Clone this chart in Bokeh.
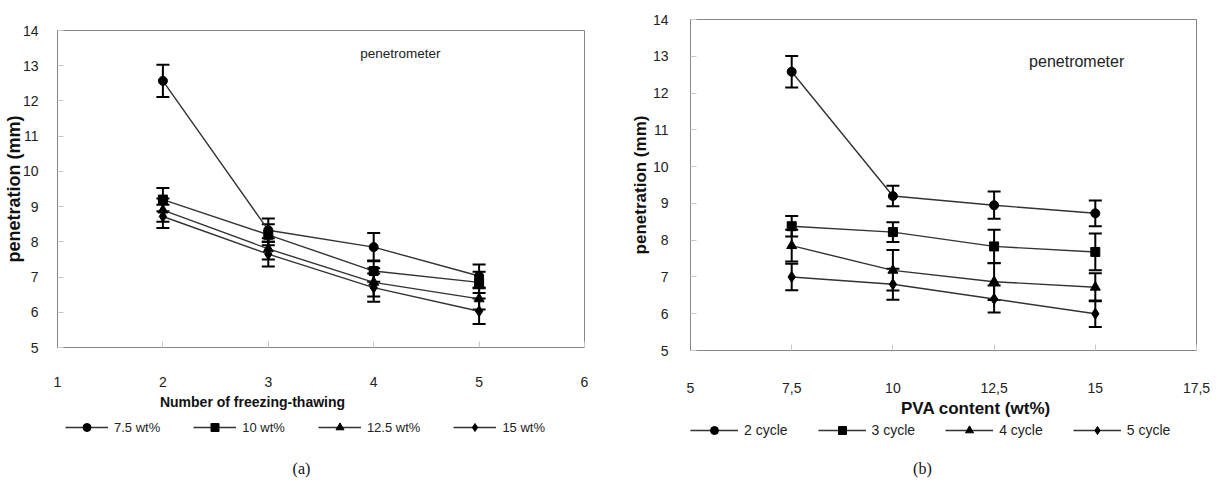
from bokeh.plotting import figure
from bokeh.models import (Range1d, Whisker, ColumnDataSource, Legend, LegendItem,
                          Label, FixedTicker, TeeHead)
from bokeh.layouts import row, column
from bokeh.embed import file_html
from bokeh.resources import INLINE

# ---------------- data: chart (a) ----------------
cycles = [2, 3, 4, 5]
wt_labels = ["7.5 wt%", "10 wt%", "12.5 wt%", "15 wt%"]
pen_7_5 = [12.57, 8.33, 7.85, 7.03]
pen_10 = [9.20, 8.20, 7.17, 6.85]
pen_12_5 = [8.90, 7.80, 6.85, 6.38]
pen_15 = [8.72, 7.65, 6.70, 6.03]
err_7_5 = [0.46, 0.33, 0.40, 0.33]
err_10 = [0.33, 0.30, 0.30, 0.30]
err_12_5 = [0.33, 0.30, 0.40, 0.30]
err_15 = [0.33, 0.35, 0.40, 0.36]
x_ticks_a = [1, 2, 3, 4, 5, 6]

# ---------------- data: chart (b) ----------------
pva = [7.5, 10, 12.5, 15]
cycle_labels = ["2 cycle", "3 cycle", "4 cycle", "5 cycle"]
pen_c2 = [12.58, 9.20, 8.95, 8.73]
pen_c3 = [8.38, 8.22, 7.83, 7.68]
pen_c4 = [7.85, 7.18, 6.87, 6.72]
pen_c5 = [7.00, 6.80, 6.40, 6.00]
err_c2 = [0.43, 0.28, 0.37, 0.35]
err_c3 = [0.28, 0.27, 0.45, 0.50]
err_c4 = [0.43, 0.55, 0.50, 0.38]
err_c5 = [0.36, 0.42, 0.37, 0.36]
x_ticks_b = [5, 7.5, 10, 12.5, 15, 17.5]
x_tick_labels_b = ["5", "7,5", "10", "12,5", "15", "17,5"]
y_ticks = [5, 6, 7, 8, 9, 10, 11, 12, 13, 14]

markers = ["circle", "square", "triangle", "diamond"]
marker_sizes = [9, 9, 10, 11]

SANS = "Liberation Sans"
SERIF = "Liberation Serif"
GRAY = "#868686"
LINE_C = "#333333"


def make_fig(width, height, xr, yr, mb_left, mb_right, mb_top, mb_bottom):
    p = figure(width=width, height=height, x_range=Range1d(*xr), y_range=Range1d(*yr),
               output_backend="svg", toolbar_location=None,
               min_border_left=mb_left, min_border_right=mb_right,
               min_border_top=mb_top, min_border_bottom=mb_bottom)
    p.grid.visible = False
    p.outline_line_color = GRAY
    p.outline_line_width = 1
    p.background_fill_color = "white"
    p.border_fill_color = "white"
    for ax in (p.xaxis[0], p.yaxis[0]):
        ax.axis_line_color = GRAY
        ax.major_tick_line_color = "#c8c8c8"
        ax.minor_tick_line_color = None
        ax.major_tick_out = 0
        ax.major_tick_in = 6
        ax.major_label_text_font = SANS
        ax.major_label_text_font_size = "14px"
        ax.major_label_text_color = "#222222"
    p.yaxis.ticker = FixedTicker(ticks=y_ticks)
    p.yaxis.axis_label = "penetration (mm)"
    p.yaxis.axis_label_text_font = SANS
    p.yaxis.axis_label_text_font_style = "bold"
    p.yaxis.axis_label_text_color = "#111111"
    return p


def make_strip(width, height, xr, mb_left, mb_right):
    # strip under a chart: axis title, legend and panel letter
    s = figure(width=width, height=height, x_range=Range1d(*xr), y_range=Range1d(0, height),
               output_backend="svg", toolbar_location=None,
               x_axis_location=None, y_axis_location=None,
               min_border_left=mb_left, min_border_right=mb_right,
               min_border_top=0, min_border_bottom=0)
    s.grid.visible = False
    s.outline_line_color = None
    s.background_fill_color = "white"
    s.border_fill_color = "white"
    return s


def make_sources(xs, ys, errs):
    return [ColumnDataSource(dict(x=xs, y=yv,
                                  upper=[a + b for a, b in zip(yv, ev)],
                                  lower=[a - b for a, b in zip(yv, ev)]))
            for yv, ev in zip(ys, errs)]


def add_series(p, sources):
    for k, src in enumerate(sources):
        p.line("x", "y", source=src, line_color=LINE_C, line_width=1.4)
        w = Whisker(source=src, base="x", upper="upper", lower="lower",
                    line_color="black", line_width=2,
                    upper_head=TeeHead(size=13, line_color="black", line_width=2),
                    lower_head=TeeHead(size=13, line_color="black", line_width=2))
        p.add_layout(w)
        p.scatter("x", "y", source=src, marker=markers[k], size=marker_sizes[k],
                  fill_color="black", line_color="black")


def legend_items(s, sources, labels):
    # hidden copies of the series, only used to draw the legend keys
    items = []
    for k, (src, lab) in enumerate(zip(sources, labels)):
        ln = s.line("x", "y", source=src, line_color=LINE_C, line_width=1.4, visible=False)
        sc = s.scatter("x", "y", source=src, marker=markers[k], size=marker_sizes[k],
                       fill_color="black", line_color="black", visible=False)
        items.append(LegendItem(label=lab, renderers=[ln, sc]))
    return items


# ---------------- chart (a) ----------------
A_W, A_H1 = 610, 392
A_L, A_R = 57, 26
src_a = make_sources(cycles, [pen_7_5, pen_10, pen_12_5, pen_15],
                     [err_7_5, err_10, err_12_5, err_15])
pa = make_fig(A_W, A_H1, (1, 6), (5, 14), A_L, A_R, 30, 45)
pa.xaxis.ticker = FixedTicker(ticks=x_ticks_a)
pa.xaxis.major_label_standoff = 29
pa.yaxis.major_label_standoff = 19
pa.yaxis.axis_label_standoff = -4
pa.yaxis.axis_label_text_font_size = "18px"
add_series(pa, src_a)
pa.add_layout(Label(x=4.254, y=13.35, text="penetrometer", text_align="center",
                    text_baseline="middle", text_font=SANS, text_font_size="13.5px",
                    text_color="#222222"))

sa = make_strip(A_W, 482 - A_H1, (1, 6), A_L, A_R)
sa.add_layout(Label(x=2.85, y=81, text="Number of freezing-thawing", text_align="center",
                    text_baseline="middle", text_font=SANS, text_font_style="bold",
                    text_font_size="14px", text_color="#111111"))
leg_a = Legend(items=legend_items(sa, src_a, wt_labels), orientation="horizontal",
               location=(8, 45), glyph_width=43, glyph_height=20, label_height=20,
               label_standoff=6, spacing=33, padding=0, margin=0, border_line_alpha=0,
               background_fill_alpha=0, inactive_fill_alpha=0, label_text_font=SANS,
               label_text_font_size="13px", label_text_color="#222222")
sa.add_layout(leg_a, "center")
sa.add_layout(Label(x=3.315, y=14, text="(a)", text_align="center", text_baseline="middle",
                    text_font=SERIF, text_font_size="16px", text_color="#111111"))

# ---------------- chart (b) ----------------
B_W, B_H1 = 611, 398
B_L, B_R = 80, 25
src_b = make_sources(pva, [pen_c2, pen_c3, pen_c4, pen_c5],
                     [err_c2, err_c3, err_c4, err_c5])
pb = make_fig(B_W, B_H1, (5, 17.5), (5, 14), B_L, B_R, 19, 48)
pb.xaxis.ticker = FixedTicker(ticks=x_ticks_b)
pb.xaxis.major_label_overrides = {(int(t) if t == int(t) else t): s
                                  for t, s in zip(x_ticks_b, x_tick_labels_b)}
pb.xaxis.major_label_standoff = 32
pb.yaxis.major_label_standoff = 22
pb.yaxis.axis_label_standoff = 0
pb.yaxis.axis_label_text_font_size = "17px"
add_series(pb, src_b)
pb.add_layout(Label(x=14.54, y=12.87, text="penetrometer", text_align="center",
                    text_baseline="middle", text_font=SANS, text_font_size="16px",
                    text_color="#222222"))

sb = make_strip(B_W, 482 - B_H1, (5, 17.5), B_L, B_R)
sb.add_layout(Label(x=12.05, y=74, text="PVA content (wt%)", text_align="center",
                    text_baseline="middle", text_font=SANS, text_font_style="bold",
                    text_font_size="17px", text_color="#111111"))
leg_b = Legend(items=legend_items(sb, src_b, cycle_labels), orientation="horizontal",
               location=(0, 42), glyph_width=48, glyph_height=20, label_height=20,
               label_standoff=6, spacing=30, padding=0, margin=0, border_line_alpha=0,
               background_fill_alpha=0, inactive_fill_alpha=0, label_text_font=SANS,
               label_text_font_size="14px", label_text_color="#222222")
sb.add_layout(leg_b, "center")
sb.add_layout(Label(x=10.73, y=14, text="(b)", text_align="center", text_baseline="middle",
                    text_font=SERIF, text_font_size="16px", text_color="#111111"))

layout = row(column(pa, sa, spacing=0), column(pb, sb, spacing=0), spacing=0)
open("out.html", "w").write(file_html(layout, INLINE))
